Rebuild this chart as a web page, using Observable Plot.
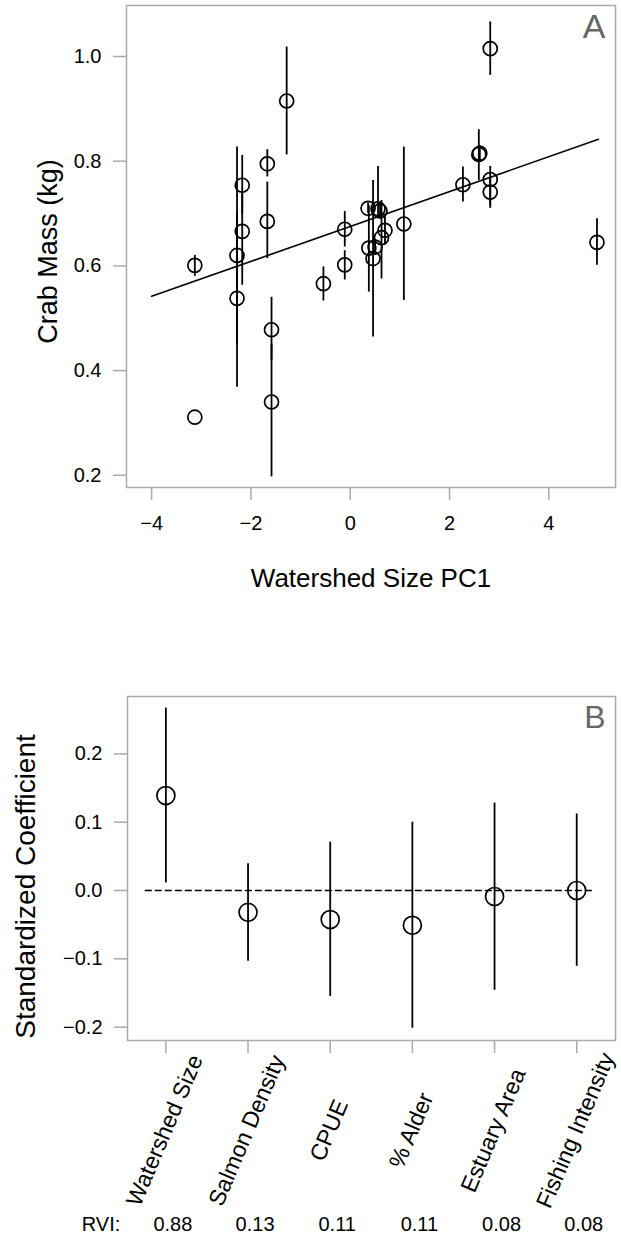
<!DOCTYPE html>
<html>
<head>
<meta charset="utf-8">
<script src="https://cdn.jsdelivr.net/npm/d3@7"></script>
<script src="https://cdn.jsdelivr.net/npm/@observablehq/plot@0.6"></script>
<style>
  body { margin: 0; background: #fff; }
  svg { display: block; }
</style>
</head>
<body>
<div id="panelA"></div>
<div id="panelB"></div>
<script>
// ---------- Panel A data ----------
const watershedPC1 = [-3.13, -3.13, -2.28, -2.28, -2.175, -2.175, -1.67, -1.67, -1.585, -1.585, -1.28, -0.54, -0.11, -0.11, 0.36, 0.375, 0.46, 0.50, 0.56, 0.60, 0.63, 0.70, 1.08, 2.27, 2.59, 2.61, 2.82, 2.82, 2.82, 4.97];
const crabMass     = [0.601, 0.311, 0.620, 0.538, 0.754, 0.666, 0.795, 0.685, 0.478, 0.340, 0.915, 0.566, 0.670, 0.602, 0.710, 0.634, 0.614, 0.636, 0.709, 0.705, 0.654, 0.668, 0.680, 0.755, 0.813, 0.815, 0.765, 0.741, 1.015, 0.645];
const massLo       = [0.580, 0.311, 0.450, 0.368, 0.700, 0.563, 0.770, 0.614, 0.420, 0.197, 0.812, 0.533, 0.636, 0.573, 0.700, 0.550, 0.464, 0.620, 0.693, 0.690, 0.575, 0.640, 0.534, 0.722, 0.763, 0.800, 0.715, 0.710, 0.964, 0.601];
const massHi       = [0.620, 0.311, 0.827, 0.700, 0.811, 0.740, 0.822, 0.760, 0.540, 0.450, 1.018, 0.598, 0.704, 0.629, 0.720, 0.715, 0.763, 0.650, 0.790, 0.720, 0.725, 0.696, 0.827, 0.789, 0.860, 0.830, 0.790, 0.770, 1.066, 0.690];
const fitX = [-4, 5];
const fitY = [0.542, 0.842];
const xTicksA = [-4, -2, 0, 2, 4];
const yTicksA = [0.2, 0.4, 0.6, 0.8, 1.0];

// ---------- Panel B data ----------
const predictors = ["Watershed Size", "Salmon Density", "CPUE", "% Alder", "Estuary Area", "Fishing Intensity"];
const coef   = [0.139, -0.032, -0.0425, -0.051, -0.0088, 0.0];
const coefLo = [0.011, -0.1035, -0.155, -0.2016, -0.146, -0.111];
const coefHi = [0.267, 0.039, 0.0707, 0.100, 0.128, 0.112];
const rvi    = ["0.88", "0.13", "0.11", "0.11", "0.08", "0.08"];
const yTicksB = [-0.2, -0.1, 0.0, 0.1, 0.2];
const zeroLineX = [0.75, 6.2];

const font = "'Liberation Sans', Arial, Helvetica, sans-serif";
const minus = s => s.replace("-", "\u2212");
const gray = "#aaa";

const dataA = watershedPC1.map((x, i) => ({x, y: crabMass[i], lo: massLo[i], hi: massHi[i]}));
const fitA = fitX.map((x, i) => ({x, y: fitY[i]}));

const plotA = Plot.plot({
  width: 621, height: 610,
  marginTop: 5, marginRight: 6, marginBottom: 123, marginLeft: 126,
  style: {fontFamily: font, background: "white", color: "black", overflow: "visible"},
  x: {domain: [-4.506, 5.343]},
  y: {domain: [0.1767, 1.0974]},
  marks: [
    Plot.frame({stroke: gray, strokeWidth: 1.5}),
    Plot.axisX({ticks: xTicksA, tickSize: 13, tickPadding: 15, tickFormat: d => minus(String(d)), fontSize: 20, stroke: gray, strokeWidth: 1.5, fill: "black", label: null}),
    Plot.axisY({ticks: yTicksA, tickSize: 13, tickPadding: 12, tickFormat: d => d.toFixed(1), fontSize: 20, stroke: gray, strokeWidth: 1.5, fill: "black", label: null}),
    Plot.line(fitA, {x: "x", y: "y", stroke: "black", strokeWidth: 1.6}),
    Plot.ruleX(dataA, {x: "x", y1: "lo", y2: "hi", stroke: "black", strokeWidth: 1.8}),
    Plot.dot(dataA, {x: "x", y: "y", r: 7, stroke: "black", strokeWidth: 1.7, fill: "none"}),
    Plot.text(["A"], {frameAnchor: "top-right", dx: -10, dy: 8, textAnchor: "end", lineAnchor: "top", fontSize: 34, fill: "#666"}),
    Plot.text(["Watershed Size PC1"], {frameAnchor: "bottom", dy: 99, lineAnchor: "bottom", fontSize: 26, fill: "black"}),
    Plot.text(["Crab Mass (kg)"], {frameAnchor: "left", dx: -78, dy: 5, rotate: -90, lineAnchor: "middle", textAnchor: "middle", fontSize: 27, fill: "black"})
  ]
});
document.getElementById("panelA").appendChild(plotA);

const dataB = predictors.map((p, i) => ({pos: i + 1, p, c: coef[i], lo: coefLo[i], hi: coefHi[i], rvi: rvi[i]}));
const zeroB = zeroLineX.map(x => ({x, y: 0}));

const plotB = Plot.plot({
  width: 621, height: 627,
  marginTop: 86, marginRight: 6, marginBottom: 197, marginLeft: 127,
  style: {fontFamily: font, background: "white", color: "black", overflow: "visible"},
  x: {domain: [0.533, 6.472]},
  y: {domain: [-0.2196, 0.284]},
  marks: [
    Plot.frame({stroke: gray, strokeWidth: 1.5}),
    Plot.axisX({ticks: dataB.map(d => d.pos), tickSize: 13, tickFormat: () => "", stroke: gray, strokeWidth: 1.5, label: null}),
    Plot.axisY({ticks: yTicksB, tickSize: 13, tickPadding: 12, tickFormat: d => minus(d.toFixed(1)), fontSize: 20, stroke: gray, strokeWidth: 1.5, fill: "black", label: null}),
    Plot.line(zeroB, {x: "x", y: "y", stroke: "black", strokeWidth: 1.4, strokeDasharray: "6,4"}),
    Plot.ruleX(dataB, {x: "pos", y1: "lo", y2: "hi", stroke: "black", strokeWidth: 1.8}),
    Plot.dot(dataB, {x: "pos", y: "c", r: 9, stroke: "black", strokeWidth: 1.7, fill: "none"}),
    Plot.text(["B"], {frameAnchor: "top-right", dx: -10, dy: 9, textAnchor: "end", lineAnchor: "top", fontSize: 32, fill: "#666"}),
    Plot.text(dataB, {x: "pos", text: "p", frameAnchor: "bottom", dx: -1, dy: 90, rotate: -67, textAnchor: "middle", lineAnchor: "middle", fontSize: 23, fill: "black"}),
    Plot.text(dataB, {x: "pos", text: "rvi", frameAnchor: "bottom", dx: 7, dy: 190, lineAnchor: "bottom", textAnchor: "middle", fontSize: 20, fill: "black"}),
    Plot.text(["RVI:"], {x: () => 0, frameAnchor: "bottom", dx: -2, dy: 190, lineAnchor: "bottom", textAnchor: "start", fontSize: 20, fill: "black"}),
    Plot.text(["Standardized Coefficient"], {frameAnchor: "left", dx: -101, dy: 18, rotate: -90, lineAnchor: "middle", textAnchor: "middle", fontSize: 28, fill: "black"})
  ]
});
document.getElementById("panelB").appendChild(plotB);
</script>
</body>
</html>
